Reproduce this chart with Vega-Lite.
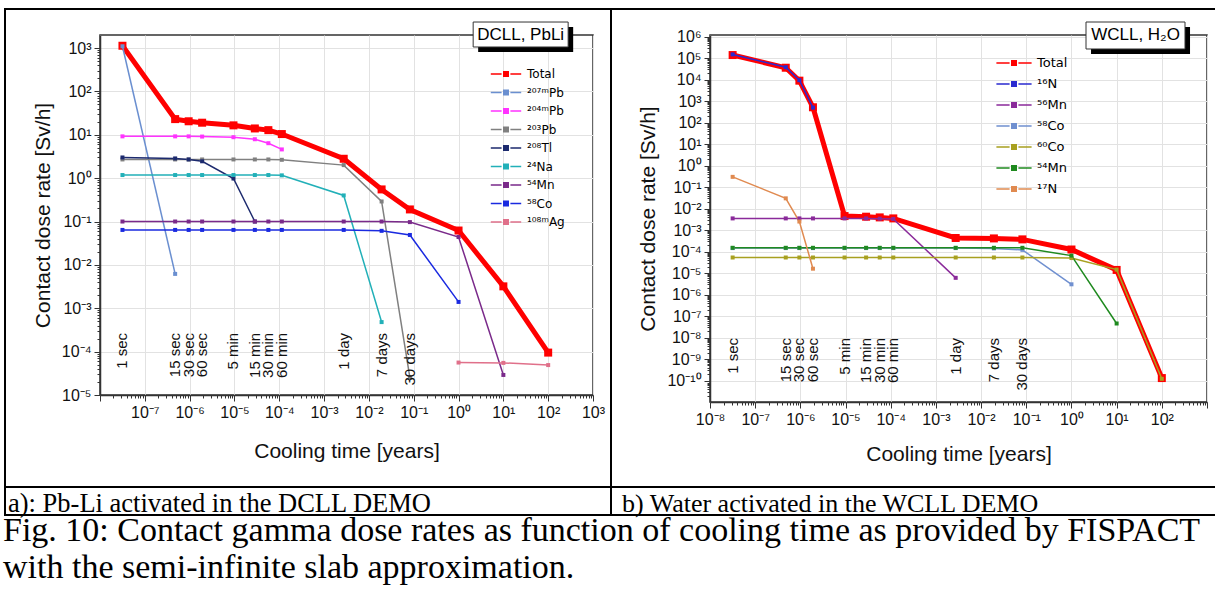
{
  "$schema": "https://vega.github.io/schema/vega-lite/v6.json",
  "padding": {"left": 0, "top": 8, "right": 0, "bottom": 0},
  "background": "#ffffff",
  "columns": 9,
  "spacing": 0,
  "bounds": "flush",
  "align": "each",
  "resolve": {"scale": {"color": "independent"}, "legend": {"color": "independent"}},
  "datasets": {
    "A": [
      {"s":"Total","t":3.17e-8,"v":1130},{"s":"Total","t":4.75e-7,"v":23},{"s":"Total","t":9.51e-7,"v":20.5},{"s":"Total","t":1.9e-6,"v":19},{"s":"Total","t":9.51e-6,"v":16.5},{"s":"Total","t":2.85e-5,"v":14},{"s":"Total","t":5.71e-5,"v":12.8},{"s":"Total","t":1.14e-4,"v":10.4},{"s":"Total","t":2.74e-3,"v":2.8},{"s":"Total","t":1.92e-2,"v":0.55},{"s":"Total","t":8.21e-2,"v":0.19},{"s":"Total","t":1,"v":0.062},{"s":"Total","t":10,"v":0.0032},{"s":"Total","t":100,"v":9.5e-5},
      {"s":"²⁰⁷ᵐPb","t":3.17e-8,"v":1100},{"s":"²⁰⁷ᵐPb","t":4.75e-7,"v":0.0062},
      {"s":"²⁰⁴ᵐPb","t":3.17e-8,"v":9.2},{"s":"²⁰⁴ᵐPb","t":4.75e-7,"v":9.2},{"s":"²⁰⁴ᵐPb","t":9.51e-7,"v":9.2},{"s":"²⁰⁴ᵐPb","t":1.9e-6,"v":9.1},{"s":"²⁰⁴ᵐPb","t":9.51e-6,"v":8.8},{"s":"²⁰⁴ᵐPb","t":2.85e-5,"v":7.9},{"s":"²⁰⁴ᵐPb","t":5.71e-5,"v":6.4},{"s":"²⁰⁴ᵐPb","t":1.14e-4,"v":4.6},
      {"s":"²⁰³Pb","t":3.17e-8,"v":2.7},{"s":"²⁰³Pb","t":4.75e-7,"v":2.7},{"s":"²⁰³Pb","t":9.51e-7,"v":2.7},{"s":"²⁰³Pb","t":1.9e-6,"v":2.7},{"s":"²⁰³Pb","t":9.51e-6,"v":2.7},{"s":"²⁰³Pb","t":2.85e-5,"v":2.7},{"s":"²⁰³Pb","t":5.71e-5,"v":2.7},{"s":"²⁰³Pb","t":1.14e-4,"v":2.65},{"s":"²⁰³Pb","t":2.74e-3,"v":2.0},{"s":"²⁰³Pb","t":1.92e-2,"v":0.29},{"s":"²⁰³Pb","t":8.21e-2,"v":2.5e-5},
      {"s":"²⁰⁸Tl","t":3.17e-8,"v":3.0},{"s":"²⁰⁸Tl","t":4.75e-7,"v":2.85},{"s":"²⁰⁸Tl","t":9.51e-7,"v":2.7},{"s":"²⁰⁸Tl","t":1.9e-6,"v":2.45},{"s":"²⁰⁸Tl","t":9.51e-6,"v":0.98},{"s":"²⁰⁸Tl","t":2.85e-5,"v":0.1},
      {"s":"²⁴Na","t":3.17e-8,"v":1.18},{"s":"²⁴Na","t":4.75e-7,"v":1.18},{"s":"²⁴Na","t":9.51e-7,"v":1.18},{"s":"²⁴Na","t":1.9e-6,"v":1.18},{"s":"²⁴Na","t":9.51e-6,"v":1.18},{"s":"²⁴Na","t":2.85e-5,"v":1.18},{"s":"²⁴Na","t":5.71e-5,"v":1.18},{"s":"²⁴Na","t":1.14e-4,"v":1.16},{"s":"²⁴Na","t":2.74e-3,"v":0.4},{"s":"²⁴Na","t":1.92e-2,"v":4.8e-4},
      {"s":"⁵⁴Mn","t":3.17e-8,"v":0.1},{"s":"⁵⁴Mn","t":4.75e-7,"v":0.1},{"s":"⁵⁴Mn","t":9.51e-7,"v":0.1},{"s":"⁵⁴Mn","t":1.9e-6,"v":0.1},{"s":"⁵⁴Mn","t":9.51e-6,"v":0.1},{"s":"⁵⁴Mn","t":2.85e-5,"v":0.1},{"s":"⁵⁴Mn","t":5.71e-5,"v":0.1},{"s":"⁵⁴Mn","t":1.14e-4,"v":0.1},{"s":"⁵⁴Mn","t":2.74e-3,"v":0.1},{"s":"⁵⁴Mn","t":1.92e-2,"v":0.1},{"s":"⁵⁴Mn","t":8.21e-2,"v":0.097},{"s":"⁵⁴Mn","t":1,"v":0.044},{"s":"⁵⁴Mn","t":10,"v":2.9e-5},
      {"s":"⁵⁸Co","t":3.17e-8,"v":0.064},{"s":"⁵⁸Co","t":4.75e-7,"v":0.064},{"s":"⁵⁸Co","t":9.51e-7,"v":0.064},{"s":"⁵⁸Co","t":1.9e-6,"v":0.064},{"s":"⁵⁸Co","t":9.51e-6,"v":0.064},{"s":"⁵⁸Co","t":2.85e-5,"v":0.064},{"s":"⁵⁸Co","t":5.71e-5,"v":0.064},{"s":"⁵⁸Co","t":1.14e-4,"v":0.064},{"s":"⁵⁸Co","t":2.74e-3,"v":0.064},{"s":"⁵⁸Co","t":1.92e-2,"v":0.061},{"s":"⁵⁸Co","t":8.21e-2,"v":0.049},{"s":"⁵⁸Co","t":1,"v":1.4e-3},
      {"s":"¹⁰⁸ᵐAg","t":1,"v":5.6e-5},{"s":"¹⁰⁸ᵐAg","t":10,"v":5.5e-5},{"s":"¹⁰⁸ᵐAg","t":100,"v":4.9e-5}
    ],
    "B": [
      {"s":"Total","t":3.17e-8,"v":1.4e5},{"s":"Total","t":4.75e-7,"v":3.6e4},{"s":"Total","t":9.51e-7,"v":9e3},{"s":"Total","t":1.9e-6,"v":520},{"s":"Total","t":9.51e-6,"v":4.5e-3},{"s":"Total","t":2.85e-5,"v":4.2e-3},{"s":"Total","t":5.71e-5,"v":3.9e-3},{"s":"Total","t":1.14e-4,"v":3.5e-3},{"s":"Total","t":2.74e-3,"v":4.3e-4},{"s":"Total","t":1.92e-2,"v":4.1e-4},{"s":"Total","t":8.21e-2,"v":3.7e-4},{"s":"Total","t":1,"v":1.25e-4},{"s":"Total","t":10,"v":1.4e-5},{"s":"Total","t":100,"v":1.3e-10},
      {"s":"¹⁶N","t":3.17e-8,"v":1.5e5},{"s":"¹⁶N","t":4.75e-7,"v":3.8e4},{"s":"¹⁶N","t":9.51e-7,"v":9.5e3},{"s":"¹⁶N","t":1.9e-6,"v":500},
      {"s":"⁵⁶Mn","t":3.17e-8,"v":3.5e-3},{"s":"⁵⁶Mn","t":4.75e-7,"v":3.5e-3},{"s":"⁵⁶Mn","t":9.51e-7,"v":3.5e-3},{"s":"⁵⁶Mn","t":1.9e-6,"v":3.5e-3},{"s":"⁵⁶Mn","t":9.51e-6,"v":3.5e-3},{"s":"⁵⁶Mn","t":2.85e-5,"v":3.5e-3},{"s":"⁵⁶Mn","t":5.71e-5,"v":3.4e-3},{"s":"⁵⁶Mn","t":1.14e-4,"v":3.3e-3},{"s":"⁵⁶Mn","t":2.74e-3,"v":6e-6},
      {"s":"⁵⁸Co","t":3.17e-8,"v":1.45e-4},{"s":"⁵⁸Co","t":4.75e-7,"v":1.45e-4},{"s":"⁵⁸Co","t":9.51e-7,"v":1.45e-4},{"s":"⁵⁸Co","t":1.9e-6,"v":1.45e-4},{"s":"⁵⁸Co","t":9.51e-6,"v":1.45e-4},{"s":"⁵⁸Co","t":2.85e-5,"v":1.45e-4},{"s":"⁵⁸Co","t":5.71e-5,"v":1.45e-4},{"s":"⁵⁸Co","t":1.14e-4,"v":1.45e-4},{"s":"⁵⁸Co","t":2.74e-3,"v":1.45e-4},{"s":"⁵⁸Co","t":1.92e-2,"v":1.4e-4},{"s":"⁵⁸Co","t":8.21e-2,"v":1.2e-4},{"s":"⁵⁸Co","t":1,"v":3e-6},
      {"s":"⁶⁰Co","t":3.17e-8,"v":5.3e-5},{"s":"⁶⁰Co","t":4.75e-7,"v":5.3e-5},{"s":"⁶⁰Co","t":9.51e-7,"v":5.3e-5},{"s":"⁶⁰Co","t":1.9e-6,"v":5.3e-5},{"s":"⁶⁰Co","t":9.51e-6,"v":5.3e-5},{"s":"⁶⁰Co","t":2.85e-5,"v":5.3e-5},{"s":"⁶⁰Co","t":5.71e-5,"v":5.3e-5},{"s":"⁶⁰Co","t":1.14e-4,"v":5.3e-5},{"s":"⁶⁰Co","t":2.74e-3,"v":5.3e-5},{"s":"⁶⁰Co","t":1.92e-2,"v":5.3e-5},{"s":"⁶⁰Co","t":8.21e-2,"v":5.3e-5},{"s":"⁶⁰Co","t":1,"v":5e-5},{"s":"⁶⁰Co","t":10,"v":1.45e-5},{"s":"⁶⁰Co","t":100,"v":1.2e-10},
      {"s":"⁵⁴Mn","t":3.17e-8,"v":1.5e-4},{"s":"⁵⁴Mn","t":4.75e-7,"v":1.5e-4},{"s":"⁵⁴Mn","t":9.51e-7,"v":1.5e-4},{"s":"⁵⁴Mn","t":1.9e-6,"v":1.5e-4},{"s":"⁵⁴Mn","t":9.51e-6,"v":1.5e-4},{"s":"⁵⁴Mn","t":2.85e-5,"v":1.5e-4},{"s":"⁵⁴Mn","t":5.71e-5,"v":1.5e-4},{"s":"⁵⁴Mn","t":1.14e-4,"v":1.5e-4},{"s":"⁵⁴Mn","t":2.74e-3,"v":1.5e-4},{"s":"⁵⁴Mn","t":1.92e-2,"v":1.5e-4},{"s":"⁵⁴Mn","t":8.21e-2,"v":1.5e-4},{"s":"⁵⁴Mn","t":1,"v":6.5e-5},{"s":"⁵⁴Mn","t":10,"v":4.5e-8},
      {"s":"¹⁷N","t":3.17e-8,"v":0.3},{"s":"¹⁷N","t":4.75e-7,"v":0.03},{"s":"¹⁷N","t":9.51e-7,"v":2.5e-3},{"s":"¹⁷N","t":1.9e-6,"v":1.6e-5}
    ],
    "L": [
      {"t":3.17e-8,"label":"1 sec"},{"t":4.75e-7,"label":"15 sec"},{"t":9.51e-7,"label":"30 sec"},{"t":1.9e-6,"label":"60 sec"},{"t":9.51e-6,"label":"5 min"},{"t":2.85e-5,"label":"15 min"},{"t":5.71e-5,"label":"30 min"},{"t":1.14e-4,"label":"60 min"},{"t":2.74e-3,"label":"1 day"},{"t":1.92e-2,"label":"7 days"},{"t":8.21e-2,"label":"30 days"}
    ]
  },
  "concat": [
    {"width":4,"height":2,"data":{"values":[]},"mark":"text","encoding":{"text":{"value":""}}},
    {"width":2,"height":2,"data":{"values":[]},"mark":"text","encoding":{"text":{"value":""}},"view":{"fill":"#000","stroke":null}},
    {"width":94,"height":2,"data":{"values":[]},"mark":"text","encoding":{"text":{"value":""}},"view":{"fill":"#000","stroke":null}},
    {"width":493,"height":2,"data":{"values":[]},"mark":"text","encoding":{"text":{"value":""}},"view":{"fill":"#000","stroke":null}},
    {"width":17,"height":2,"data":{"values":[]},"mark":"text","encoding":{"text":{"value":""}},"view":{"fill":"#000","stroke":null}},
    {"width":2,"height":2,"data":{"values":[]},"mark":"text","encoding":{"text":{"value":""}},"view":{"fill":"#000","stroke":null}},
    {"width":98,"height":2,"data":{"values":[]},"mark":"text","encoding":{"text":{"value":""}},"view":{"fill":"#000","stroke":null}},
    {"width":497,"height":2,"data":{"values":[]},"mark":"text","encoding":{"text":{"value":""}},"view":{"fill":"#000","stroke":null}},
    {"width":8,"height":2,"data":{"values":[]},"mark":"text","encoding":{"text":{"value":""}},"view":{"fill":"#000","stroke":null}},

    {"width":4,"height":25,"data":{"values":[]},"mark":"text","encoding":{"text":{"value":""}}},
    {"width":2,"height":25,"data":{"values":[]},"mark":"text","encoding":{"text":{"value":""}},"view":{"fill":"#000","stroke":null}},
    {"width":94,"height":25,"data":{"values":[]},"mark":"text","encoding":{"text":{"value":""}}},
    {"width":493,"height":25,"data":{"values":[]},"mark":"text","encoding":{"text":{"value":""}}},
    {"width":17,"height":25,"data":{"values":[]},"mark":"text","encoding":{"text":{"value":""}}},
    {"width":2,"height":25,"data":{"values":[]},"mark":"text","encoding":{"text":{"value":""}},"view":{"fill":"#000","stroke":null}},
    {"width":98,"height":25,"data":{"values":[]},"mark":"text","encoding":{"text":{"value":""}}},
    {"width":497,"height":25,"data":{"values":[]},"mark":"text","encoding":{"text":{"value":""}}},
    {"width":8,"height":25,"data":{"values":[]},"mark":"text","encoding":{"text":{"value":""}}},

    {"width":4,"height":367,"data":{"values":[]},"mark":"text","encoding":{"text":{"value":""}}},
    {"width":2,"height":367,"data":{"values":[]},"mark":"text","encoding":{"text":{"value":""}},"view":{"fill":"#000","stroke":null}},
    {"width":94,"height":367,"data":{"values":[]},"mark":"text","encoding":{"text":{"value":""}}},
    {
      "width": 493,
      "height": 360,
      "view": {"stroke": "#333333", "strokeWidth": 1.5},
      "data": {"name": "A"},
      "layer": [
        {
          "transform": [{"filter": "datum.s === 'Total'"}],
          "mark": {"type": "line", "strokeWidth": 5, "point": {"shape": "square", "size": 64, "filled": true}},
          "encoding": {
            "x": {"field": "t", "type": "quantitative", "scale": {"type": "log", "domain": [1e-8, 1000], "nice": false},
              "axis": {
                "title": "Cooling time [years]", "titlePadding": 20, "grid": true, "labelOverlap": false, "labelFlush": false,
                "values": [1e-8,2e-8,3e-8,4e-8,5e-8,6e-8,7e-8,8e-8,9e-8,1e-7,2e-7,3e-7,4e-7,5e-7,6e-7,7e-7,8e-7,9e-7,1e-6,2e-6,3e-6,4e-6,5e-6,6e-6,7e-6,8e-6,9e-6,1e-5,2e-5,3e-5,4e-5,5e-5,6e-5,7e-5,8e-5,9e-5,1e-4,2e-4,3e-4,4e-4,5e-4,6e-4,7e-4,8e-4,9e-4,0.001,0.002,0.003,0.004,0.005,0.006,0.007,0.008,0.009,0.01,0.02,0.03,0.04,0.05,0.06,0.07,0.08,0.09,0.1,0.2,0.3,0.4,0.5,0.6,0.7,0.8,0.9,1,2,3,4,5,6,7,8,9,10,20,30,40,50,60,70,80,90,100,200,300,400,500,600,700,800,900,1000],
                "labelExpr": "!(abs(log(datum.value)/LN10 - round(log(datum.value)/LN10)) < 0.01) || datum.value < 5e-8 ? '' : '10' + (round(log(datum.value)/LN10) < 0 ? '⁻' : '') + (abs(round(log(datum.value)/LN10)) >= 10 ? '¹' : '') + ['⁰','¹','²','³','⁴','⁵','⁶','⁷','⁸','⁹'][abs(round(log(datum.value)/LN10)) % 10]",
                "tickSize": {"condition": {"test": "abs(log(datum.value)/LN10 - round(log(datum.value)/LN10)) < 0.01", "value": 6}, "value": 3},
                "gridOpacity": {"condition": {"test": "abs(log(datum.value)/LN10 - round(log(datum.value)/LN10)) < 0.01", "value": 1}, "value": 0}
              }},
            "y": {"field": "v", "type": "quantitative", "scale": {"type": "log", "domain": [1e-5, 2000], "nice": false},
              "axis": {
                "title": "Contact dose rate [Sv/h]", "titlePadding": 8, "grid": true, "labelOverlap": false,
                "values": [1e-5,2e-5,3e-5,4e-5,5e-5,6e-5,7e-5,8e-5,9e-5,1e-4,2e-4,3e-4,4e-4,5e-4,6e-4,7e-4,8e-4,9e-4,0.001,0.002,0.003,0.004,0.005,0.006,0.007,0.008,0.009,0.01,0.02,0.03,0.04,0.05,0.06,0.07,0.08,0.09,0.1,0.2,0.3,0.4,0.5,0.6,0.7,0.8,0.9,1,2,3,4,5,6,7,8,9,10,20,30,40,50,60,70,80,90,100,200,300,400,500,600,700,800,900,1000],
                "labelExpr": "!(abs(log(datum.value)/LN10 - round(log(datum.value)/LN10)) < 0.01) ? '' : '10' + (round(log(datum.value)/LN10) < 0 ? '⁻' : '') + (abs(round(log(datum.value)/LN10)) >= 10 ? '¹' : '') + ['⁰','¹','²','³','⁴','⁵','⁶','⁷','⁸','⁹'][abs(round(log(datum.value)/LN10)) % 10]",
                "tickSize": {"condition": {"test": "abs(log(datum.value)/LN10 - round(log(datum.value)/LN10)) < 0.01", "value": 6}, "value": 3},
                "gridOpacity": {"condition": {"test": "abs(log(datum.value)/LN10 - round(log(datum.value)/LN10)) < 0.01", "value": 1}, "value": 0}
              }},
            "color": {"field": "s", "type": "nominal",
              "scale": {"domain": ["Total","²⁰⁷ᵐPb","²⁰⁴ᵐPb","²⁰³Pb","²⁰⁸Tl","²⁴Na","⁵⁴Mn","⁵⁸Co","¹⁰⁸ᵐAg"], "range": ["#ff0000","#6a8fd0","#ff33ff","#808080","#1c2a6e","#22b0b8","#7a2a8a","#1a2ae0","#e0708a"]},
              "legend": {
                "orient": "none", "legendX": 397, "legendY": 30, "title": null, "padding": 0,
                "symbolSize": 256, "symbolType": "M-1.9,0H-0.55M0.55,0H1.9M-0.28,-0.28H0.28V0.28H-0.28Z", "symbolStrokeWidth": 1.5,
                "labelOffset": 12, "rowPadding": 3.5, "labelFont": "DejaVu Sans", "labelFontSize": 12, "labelColor": "#000000", "labelLimit": 200
              }}
          }
        },
        {
          "transform": [{"filter": "datum.s !== 'Total'"}],
          "mark": {"type": "line", "strokeWidth": 1.5, "point": {"shape": "square", "size": 16, "filled": true}},
          "encoding": {
            "x": {"field": "t", "type": "quantitative"},
            "y": {"field": "v", "type": "quantitative"},
            "color": {"field": "s", "type": "nominal",
              "scale": {"domain": ["Total","²⁰⁷ᵐPb","²⁰⁴ᵐPb","²⁰³Pb","²⁰⁸Tl","²⁴Na","⁵⁴Mn","⁵⁸Co","¹⁰⁸ᵐAg"], "range": ["#ff0000","#6a8fd0","#ff33ff","#808080","#1c2a6e","#22b0b8","#7a2a8a","#1a2ae0","#e0708a"]}}
          }
        },
        {
          "data": {"name": "L"},
          "mark": {"type": "text", "angle": 270, "align": "right", "baseline": "middle", "fontSize": 15, "font": "Liberation Sans", "color": "#111111"},
          "encoding": {
            "x": {"field": "t", "type": "quantitative"},
            "y": {"datum": 2.7e-4, "type": "quantitative"},
            "text": {"field": "label"}
          }
        },
        {
          "data": {"values": [{}]},
          "mark": {"type": "rect", "color": "#000000"},
          "encoding": {"x": {"datum": 2.74, "type": "quantitative"}, "x2": {"datum": 361}, "y": {"datum": 3055, "type": "quantitative"}, "y2": {"datum": 811}}
        },
        {
          "data": {"values": [{}]},
          "mark": {"type": "rect", "fill": "#ffffff", "stroke": "#333333", "strokeWidth": 1},
          "encoding": {"x": {"datum": 2.12, "type": "quantitative"}, "x2": {"datum": 279}, "y": {"datum": 3985, "type": "quantitative"}, "y2": {"datum": 1058}}
        },
        {
          "data": {"values": [{}]},
          "mark": {"type": "text", "fontSize": 17, "font": "Liberation Sans", "color": "#000000", "align": "center", "baseline": "middle"},
          "encoding": {"x": {"datum": 24.3, "type": "quantitative"}, "y": {"datum": 2050, "type": "quantitative"}, "text": {"value": "DCLL, PbLi"}}
        }
      ]
    },
    {"width":17,"height":367,"data":{"values":[]},"mark":"text","encoding":{"text":{"value":""}}},
    {"width":2,"height":367,"data":{"values":[]},"mark":"text","encoding":{"text":{"value":""}},"view":{"fill":"#000","stroke":null}},
    {"width":98,"height":367,"data":{"values":[]},"mark":"text","encoding":{"text":{"value":""}}},
    {
      "width": 497,
      "height": 367,
      "view": {"stroke": "#333333", "strokeWidth": 1.5},
      "data": {"name": "B"},
      "layer": [
        {
          "transform": [{"filter": "datum.s === 'Total'"}],
          "mark": {"type": "line", "strokeWidth": 5, "point": {"shape": "square", "size": 64, "filled": true}},
          "encoding": {
            "x": {"field": "t", "type": "quantitative", "scale": {"type": "log", "domain": [1e-8, 1000], "nice": false},
              "axis": {
                "title": "Cooling time [years]", "titlePadding": 16, "grid": true, "labelOverlap": false, "labelFlush": false,
                "values": [1e-8,2e-8,3e-8,4e-8,5e-8,6e-8,7e-8,8e-8,9e-8,1e-7,2e-7,3e-7,4e-7,5e-7,6e-7,7e-7,8e-7,9e-7,1e-6,2e-6,3e-6,4e-6,5e-6,6e-6,7e-6,8e-6,9e-6,1e-5,2e-5,3e-5,4e-5,5e-5,6e-5,7e-5,8e-5,9e-5,1e-4,2e-4,3e-4,4e-4,5e-4,6e-4,7e-4,8e-4,9e-4,0.001,0.002,0.003,0.004,0.005,0.006,0.007,0.008,0.009,0.01,0.02,0.03,0.04,0.05,0.06,0.07,0.08,0.09,0.1,0.2,0.3,0.4,0.5,0.6,0.7,0.8,0.9,1,2,3,4,5,6,7,8,9,10,20,30,40,50,60,70,80,90,100,200,300,400,500,600,700,800,900,1000],
                "labelExpr": "!(abs(log(datum.value)/LN10 - round(log(datum.value)/LN10)) < 0.01) || datum.value > 500 ? '' : '10' + (round(log(datum.value)/LN10) < 0 ? '⁻' : '') + (abs(round(log(datum.value)/LN10)) >= 10 ? '¹' : '') + ['⁰','¹','²','³','⁴','⁵','⁶','⁷','⁸','⁹'][abs(round(log(datum.value)/LN10)) % 10]",
                "tickSize": {"condition": {"test": "abs(log(datum.value)/LN10 - round(log(datum.value)/LN10)) < 0.01", "value": 6}, "value": 3},
                "gridOpacity": {"condition": {"test": "abs(log(datum.value)/LN10 - round(log(datum.value)/LN10)) < 0.01", "value": 1}, "value": 0}
              }},
            "y": {"field": "v", "type": "quantitative", "scale": {"type": "log", "domain": [1e-11, 1.2e6], "nice": false},
              "axis": {
                "title": "Contact dose rate [Sv/h]", "titlePadding": 8, "grid": true, "labelOverlap": false,
                "values": [2e-11,3e-11,4e-11,5e-11,6e-11,7e-11,8e-11,9e-11,1e-10,2e-10,3e-10,4e-10,5e-10,6e-10,7e-10,8e-10,9e-10,1e-9,2e-9,3e-9,4e-9,5e-9,6e-9,7e-9,8e-9,9e-9,1e-8,2e-8,3e-8,4e-8,5e-8,6e-8,7e-8,8e-8,9e-8,1e-7,2e-7,3e-7,4e-7,5e-7,6e-7,7e-7,8e-7,9e-7,1e-6,2e-6,3e-6,4e-6,5e-6,6e-6,7e-6,8e-6,9e-6,1e-5,2e-5,3e-5,4e-5,5e-5,6e-5,7e-5,8e-5,9e-5,1e-4,2e-4,3e-4,4e-4,5e-4,6e-4,7e-4,8e-4,9e-4,0.001,0.002,0.003,0.004,0.005,0.006,0.007,0.008,0.009,0.01,0.02,0.03,0.04,0.05,0.06,0.07,0.08,0.09,0.1,0.2,0.3,0.4,0.5,0.6,0.7,0.8,0.9,1,2,3,4,5,6,7,8,9,10,20,30,40,50,60,70,80,90,100,200,300,400,500,600,700,800,900,1000,2000,3000,4000,5000,6000,7000,8000,9000,10000,20000,30000,40000,50000,60000,70000,80000,90000,100000,200000,300000,400000,500000,600000,700000,800000,900000,1000000],
                "labelExpr": "!(abs(log(datum.value)/LN10 - round(log(datum.value)/LN10)) < 0.01) ? '' : '10' + (round(log(datum.value)/LN10) < 0 ? '⁻' : '') + (abs(round(log(datum.value)/LN10)) >= 10 ? '¹' : '') + ['⁰','¹','²','³','⁴','⁵','⁶','⁷','⁸','⁹'][abs(round(log(datum.value)/LN10)) % 10]",
                "tickSize": {"condition": {"test": "abs(log(datum.value)/LN10 - round(log(datum.value)/LN10)) < 0.01", "value": 6}, "value": 3},
                "gridOpacity": {"condition": {"test": "abs(log(datum.value)/LN10 - round(log(datum.value)/LN10)) < 0.01", "value": 1}, "value": 0}
              }},
            "color": {"field": "s", "type": "nominal",
              "scale": {"domain": ["Total","¹⁶N","⁵⁶Mn","⁵⁸Co","⁶⁰Co","⁵⁴Mn","¹⁷N"], "range": ["#ff0000","#2a2ad0","#8a2a9a","#7090d0","#a8a020","#1f8a1f","#e08a50"]},
              "legend": {
                "orient": "none", "legendX": 295, "legendY": 19, "title": null, "padding": 0,
                "symbolSize": 256, "symbolType": "M-2.2,0H-0.55M0.55,0H2.2M-0.28,-0.28H0.28V0.28H-0.28Z", "symbolStrokeWidth": 1.5,
                "labelOffset": 14, "rowPadding": 5, "labelFont": "DejaVu Sans", "labelFontSize": 13, "labelColor": "#000000", "labelLimit": 200
              }}
          }
        },
        {
          "transform": [{"filter": "datum.s !== 'Total'"}],
          "mark": {"type": "line", "strokeWidth": 1.5, "point": {"shape": "square", "size": 16, "filled": true}},
          "encoding": {
            "x": {"field": "t", "type": "quantitative"},
            "y": {"field": "v", "type": "quantitative"},
            "color": {"field": "s", "type": "nominal",
              "scale": {"domain": ["Total","¹⁶N","⁵⁶Mn","⁵⁸Co","⁶⁰Co","⁵⁴Mn","¹⁷N"], "range": ["#ff0000","#2a2ad0","#8a2a9a","#7090d0","#a8a020","#1f8a1f","#e08a50"]}}
          }
        },
        {
          "data": {"name": "L"},
          "mark": {"type": "text", "angle": 270, "align": "right", "baseline": "middle", "fontSize": 15, "font": "Liberation Sans", "color": "#111111"},
          "encoding": {
            "x": {"field": "t", "type": "quantitative"},
            "y": {"datum": 9.5e-9, "type": "quantitative"},
            "text": {"field": "label"}
          }
        },
        {
          "data": {"values": [{}]},
          "mark": {"type": "rect", "color": "#000000"},
          "encoding": {"x": {"datum": 2.71, "type": "quantitative"}, "x2": {"datum": 421}, "y": {"datum": 2.82e6, "type": "quantitative"}, "y2": {"datum": 1.57e5}}
        },
        {
          "data": {"values": [{}]},
          "mark": {"type": "rect", "fill": "#ffffff", "stroke": "#333333", "strokeWidth": 1},
          "encoding": {"x": {"datum": 2.1, "type": "quantitative"}, "x2": {"datum": 326}, "y": {"datum": 4.83e6, "type": "quantitative"}, "y2": {"datum": 2.68e5}}
        },
        {
          "data": {"values": [{}]},
          "mark": {"type": "text", "fontSize": 17, "font": "Liberation Sans", "color": "#000000", "align": "center", "baseline": "middle"},
          "encoding": {"x": {"datum": 26.2, "type": "quantitative"}, "y": {"datum": 1.14e6, "type": "quantitative"}, "text": {"value": "WCLL, H₂O"}}
        }
      ]
    },
    {"width":8,"height":367,"data":{"values":[]},"mark":"text","encoding":{"text":{"value":""}}},

    {"width":4,"height":84,"data":{"values":[]},"mark":"text","encoding":{"text":{"value":""}}},
    {"width":2,"height":84,"data":{"values":[]},"mark":"text","encoding":{"text":{"value":""}},"view":{"fill":"#000","stroke":null}},
    {"width":94,"height":84,"data":{"values":[]},"mark":"text","encoding":{"text":{"value":""}}},
    {"width":493,"height":84,"data":{"values":[]},"mark":"text","encoding":{"text":{"value":""}}},
    {"width":17,"height":84,"data":{"values":[]},"mark":"text","encoding":{"text":{"value":""}}},
    {"width":2,"height":84,"data":{"values":[]},"mark":"text","encoding":{"text":{"value":""}},"view":{"fill":"#000","stroke":null}},
    {"width":98,"height":84,"data":{"values":[]},"mark":"text","encoding":{"text":{"value":""}}},
    {"width":497,"height":84,"data":{"values":[]},"mark":"text","encoding":{"text":{"value":""}}},
    {"width":8,"height":84,"data":{"values":[]},"mark":"text","encoding":{"text":{"value":""}}},

    {"width":4,"height":2,"data":{"values":[]},"mark":"text","encoding":{"text":{"value":""}}},
    {"width":2,"height":2,"data":{"values":[]},"mark":"text","encoding":{"text":{"value":""}},"view":{"fill":"#000","stroke":null}},
    {"width":94,"height":2,"data":{"values":[]},"mark":"text","encoding":{"text":{"value":""}},"view":{"fill":"#000","stroke":null}},
    {"width":493,"height":2,"data":{"values":[]},"mark":"text","encoding":{"text":{"value":""}},"view":{"fill":"#000","stroke":null}},
    {"width":17,"height":2,"data":{"values":[]},"mark":"text","encoding":{"text":{"value":""}},"view":{"fill":"#000","stroke":null}},
    {"width":2,"height":2,"data":{"values":[]},"mark":"text","encoding":{"text":{"value":""}},"view":{"fill":"#000","stroke":null}},
    {"width":98,"height":2,"data":{"values":[]},"mark":"text","encoding":{"text":{"value":""}},"view":{"fill":"#000","stroke":null}},
    {"width":497,"height":2,"data":{"values":[]},"mark":"text","encoding":{"text":{"value":""}},"view":{"fill":"#000","stroke":null}},
    {"width":8,"height":2,"data":{"values":[]},"mark":"text","encoding":{"text":{"value":""}},"view":{"fill":"#000","stroke":null}},

    {"width":4,"height":26,"data":{"values":[]},"mark":"text","encoding":{"text":{"value":""}}},
    {"width":2,"height":26,"data":{"values":[]},"mark":"text","encoding":{"text":{"value":""}},"view":{"fill":"#000","stroke":null}},
    {"width":94,"height":26,"data":{"values":[]},"mark":"text","encoding":{"text":{"value":""}},
      "title": {"text": "a): Pb-Li activated in the DCLL DEMO", "orient": "top", "anchor": "start", "frame": "group", "offset": -50, "baseline": "alphabetic", "font": "Liberation Serif", "fontSize": 26.5, "fontWeight": "normal", "color": "#000000", "dx": 2, "limit": 700}},
    {"width":493,"height":26,"data":{"values":[]},"mark":"text","encoding":{"text":{"value":""}}},
    {"width":17,"height":26,"data":{"values":[]},"mark":"text","encoding":{"text":{"value":""}}},
    {"width":2,"height":26,"data":{"values":[]},"mark":"text","encoding":{"text":{"value":""}},"view":{"fill":"#000","stroke":null}},
    {"width":98,"height":26,"data":{"values":[]},"mark":"text","encoding":{"text":{"value":""}},
      "title": {"text": "b) Water activated in the WCLL DEMO", "orient": "top", "anchor": "start", "frame": "group", "offset": -50, "baseline": "alphabetic", "font": "Liberation Serif", "fontSize": 26, "fontWeight": "normal", "color": "#000000", "dx": 10, "limit": 700}},
    {"width":497,"height":26,"data":{"values":[]},"mark":"text","encoding":{"text":{"value":""}}},
    {"width":8,"height":26,"data":{"values":[]},"mark":"text","encoding":{"text":{"value":""}}},

    {"width":4,"height":2,"data":{"values":[]},"mark":"text","encoding":{"text":{"value":""}}},
    {"width":2,"height":2,"data":{"values":[]},"mark":"text","encoding":{"text":{"value":""}},"view":{"fill":"#000","stroke":null}},
    {"width":94,"height":2,"data":{"values":[]},"mark":"text","encoding":{"text":{"value":""}},"view":{"fill":"#000","stroke":null}},
    {"width":493,"height":2,"data":{"values":[]},"mark":"text","encoding":{"text":{"value":""}},"view":{"fill":"#000","stroke":null}},
    {"width":17,"height":2,"data":{"values":[]},"mark":"text","encoding":{"text":{"value":""}},"view":{"fill":"#000","stroke":null}},
    {"width":2,"height":2,"data":{"values":[]},"mark":"text","encoding":{"text":{"value":""}},"view":{"fill":"#000","stroke":null}},
    {"width":98,"height":2,"data":{"values":[]},"mark":"text","encoding":{"text":{"value":""}},"view":{"fill":"#000","stroke":null}},
    {"width":497,"height":2,"data":{"values":[]},"mark":"text","encoding":{"text":{"value":""}},"view":{"fill":"#000","stroke":null}},
    {"width":8,"height":2,"data":{"values":[]},"mark":"text","encoding":{"text":{"value":""}},"view":{"fill":"#000","stroke":null}},

    {"width":4,"height":79,"data":{"values":[]},"mark":"text","encoding":{"text":{"value":""}},
      "title": {"text": ["Fig. 10: Contact gamma dose rates as function of cooling time as provided by FISPACT", "with the semi-infinite slab approximation."], "orient": "top", "anchor": "start", "frame": "group", "offset": -96, "baseline": "alphabetic", "font": "Liberation Serif", "fontSize": 34, "lineHeight": 37, "fontWeight": "normal", "color": "#000000", "dx": 3, "limit": 1300}},
    {"width":2,"height":79,"data":{"values":[]},"mark":"text","encoding":{"text":{"value":""}}},
    {"width":94,"height":79,"data":{"values":[]},"mark":"text","encoding":{"text":{"value":""}}},
    {"width":493,"height":79,"data":{"values":[]},"mark":"text","encoding":{"text":{"value":""}}},
    {"width":17,"height":79,"data":{"values":[]},"mark":"text","encoding":{"text":{"value":""}}},
    {"width":2,"height":79,"data":{"values":[]},"mark":"text","encoding":{"text":{"value":""}}},
    {"width":98,"height":79,"data":{"values":[]},"mark":"text","encoding":{"text":{"value":""}}},
    {"width":497,"height":79,"data":{"values":[]},"mark":"text","encoding":{"text":{"value":""}}},
    {"width":8,"height":79,"data":{"values":[]},"mark":"text","encoding":{"text":{"value":""}}}
  ],
  "config": {
    "view": {"stroke": null},
    "font": "Liberation Sans",
    "axis": {
      "domainColor": "#333333", "domainWidth": 1.5, "tickColor": "#333333", "tickWidth": 1,
      "labelColor": "#111111", "labelFont": "Liberation Sans", "labelFontSize": 16, "labelPadding": 3,
      "titleFont": "Liberation Sans", "titleFontSize": 21, "titleFontWeight": "normal", "titleColor": "#111111",
      "gridColor": "#e2e2e2", "gridWidth": 1
    }
  }
}
